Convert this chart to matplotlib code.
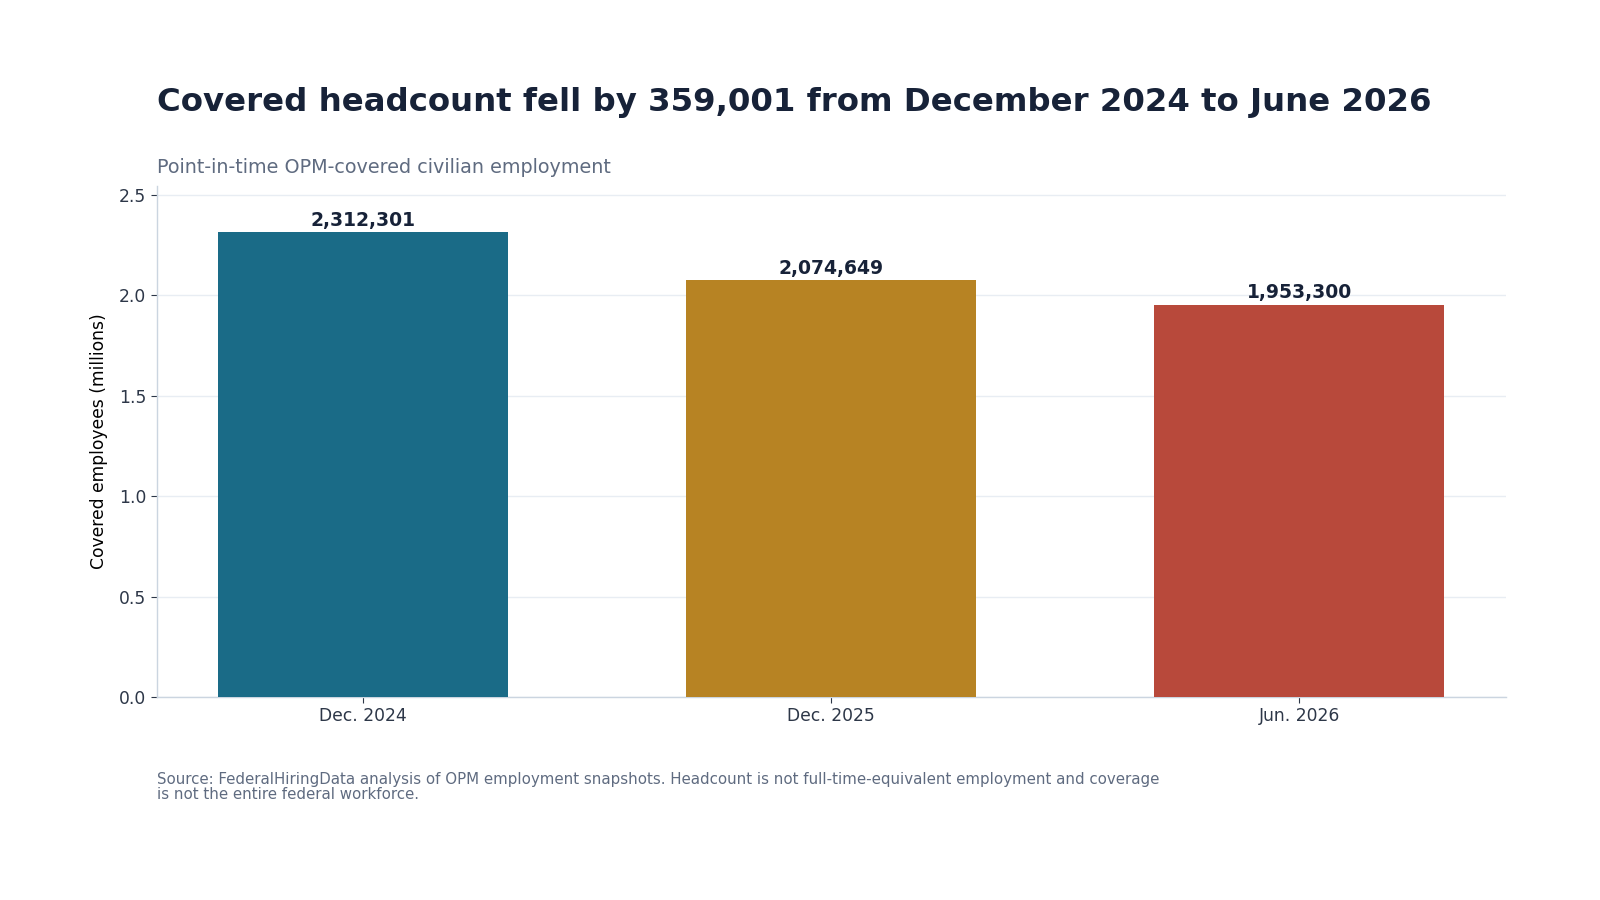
import matplotlib
matplotlib.use("Agg")
import matplotlib.pyplot as plt

categories = ["Dec. 2024", "Dec. 2025", "Jun. 2026"]
headcount = [2312301, 2074649, 1953300]
colors = ["#1a6b87", "#b78323", "#b8493b"]

title = "Covered headcount fell by 359,001 from December 2024 to June 2026"
subtitle = "Point-in-time OPM-covered civilian employment"
footer = ("Source: FederalHiringData analysis of OPM employment snapshots. Headcount is not full-time-equivalent employment and coverage\n"
          "is not the entire federal workforce.")

plt.rcParams['font.family'] = ['DejaVu Sans']
fig = plt.figure(figsize=(16, 9), dpi=100)
ax = fig.add_axes([0.098, 0.2256, 0.843, 0.5678])

vals = [v / 1e6 for v in headcount]
x = list(range(len(categories)))
bars = ax.bar(x, vals, width=0.62, color=colors, zorder=3)
for xi, v, raw in zip(x, vals, headcount):
    ax.text(xi, v + 0.012, f"{raw:,}", ha="center", va="bottom",
            fontsize=13.5, fontweight="bold", color="#172238", zorder=4)

ax.set_ylim(0, max(vals) * 1.1)
ax.set_xticks(x)
ax.set_xticklabels(categories)
ax.set_yticks([0, 0.5, 1.0, 1.5, 2.0, 2.5])
ax.set_yticklabels(["0.0", "0.5", "1.0", "1.5", "2.0", "2.5"])
ax.tick_params(axis="both", labelsize=12.3, colors="#2d3748", length=4, color="#2d3748")
ax.set_ylabel("Covered employees (millions)", fontsize=12.3, color="black", labelpad=8)
ax.grid(axis="y", color="#e8edf3", linewidth=1, zorder=0)
ax.set_axisbelow(True)
for s in ["top", "right"]:
    ax.spines[s].set_visible(False)
for s in ["left", "bottom"]:
    ax.spines[s].set_color("#cbd5e0")
    ax.spines[s].set_linewidth(1)

fig.text(0.098, 0.886, title, fontsize=23.3, fontweight="bold", color="#172238", ha="left", va="center")
fig.text(0.098, 0.814, subtitle, fontsize=13.8, color="#5f6b80", ha="left", va="center")
fig.text(0.098, 0.1425, footer, fontsize=10.8, color="#5f6b80", ha="left", va="top", linespacing=1.05)

fig.savefig("out.png", dpi=100, facecolor="white")
